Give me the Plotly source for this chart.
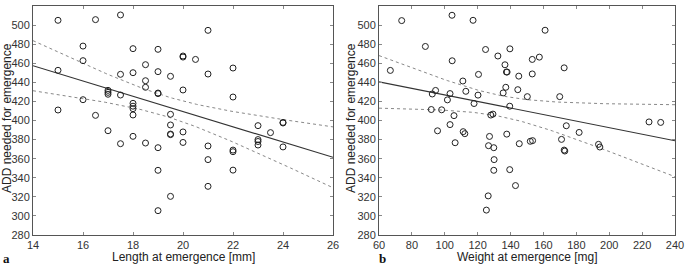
import numpy as np
import plotly.graph_objects as go
from plotly.subplots import make_subplots

# Panel a: length at emergence [mm] vs ADD
length_mm = [15, 15, 15, 16, 16, 16, 16.5, 16.5, 17, 17, 17, 17,
             17.5, 17.5, 17.5, 17.5, 18, 18, 18, 18, 18, 18, 18,
             18.5, 18.5, 18.5, 18.5, 19, 19, 19, 19, 19, 19, 19,
             19.5, 19.5, 19.5, 19.5, 19.5, 19.5, 20, 20, 20, 20, 20,
             20.5, 21, 21, 21, 21, 21, 22, 22, 22, 22, 22,
             23, 23, 23, 23, 23.5, 24, 24, 24]
add_a = [505, 452.6, 411, 478, 462.7, 421.8, 505.7, 405.4, 431.6, 429.5, 427.5, 389.3,
         510.6, 448.4, 426.7, 375.7, 475.3, 450.1, 418, 415, 412.4, 405.8, 383.4,
         458.5, 441.7, 434.8, 376.4, 474.6, 451.2, 428.8, 428.2, 371.5, 347.8, 305.5,
         446.3, 406.5, 395.3, 385.8, 385.2, 320.5, 467.6, 466.5, 432, 388, 377,
         464, 494.5, 448.7, 373.3, 359, 331, 455, 424.6, 369, 367.3, 348,
         394.6, 380, 378, 374.3, 387.3, 398, 397.4, 372.3]

# Panel b: weight at emergence [mg] vs ADD
weight_mg = [66.9, 73.8, 88.2, 94.4, 92.4, 91.8, 95.6, 98.1, 101.6, 103.2, 103.2, 104.4,
             104.5, 105.6, 106.3, 111.0, 111.2, 112.2, 112.8, 117.2, 117.8, 120.5, 120.2,
             124.8, 126.6, 126.4, 125.3, 127.2, 128.0, 129.3, 135.5, 129.8, 130.0, 129.8,
             132.3, 136.6, 137.1, 137.5, 137.9, 137.7, 139.6, 139.5, 139.5, 143.0, 144.4,
             145.0, 145.3, 150.2, 152.0, 153.4, 153.2, 153.2, 157.5, 161.0, 169.9, 171.0,
             172.6, 172.6, 173.0, 173.9, 181.7, 193.5, 194.3, 224.2, 231.3]
add_b = [452.5, 504.7, 477.6, 431.5, 427.8, 411.5, 389.2, 411.2, 421.6, 428.2, 395.7, 510.3,
         462.6, 405.1, 376.7, 441.4, 388.3, 386.2, 430.6, 505, 417.8, 448.3, 426.6,
         474.4, 373.6, 321, 306.1, 383.3, 405.7, 406.7, 428.9, 371.5, 359, 347.8,
         467.6, 458.4, 434.8, 450.8, 450.8, 385.7, 475.1, 415, 348.5, 331.8, 432.3,
         446.5, 375.7, 425, 378.2, 378.9, 464, 448.8, 466.4, 494.6, 425, 380.2,
         455.2, 369, 368, 394.5, 387.5, 375, 372.2, 398.5, 398]

x_range_a = [14, 26]
x_range_b = [60, 240]
y_range = [280, 520]
x_ticks_a = [14, 16, 18, 20, 22, 24, 26]
x_ticks_b = [60, 80, 100, 120, 140, 160, 180, 200, 220, 240]
y_ticks = list(range(280, 521, 20))
T_CRIT = 2.0  # ~95% two-sided, df = 62


def fit_with_band(x, y, xr):
    x = np.asarray(x, float)
    y = np.asarray(y, float)
    n = len(x)
    slope, intercept = np.polyfit(x, y, 1)
    resid = y - (intercept + slope * x)
    s = np.sqrt(np.sum(resid ** 2) / (n - 2))
    sxx = np.sum((x - x.mean()) ** 2)
    xs = np.linspace(xr[0], xr[1], 100)
    ys = intercept + slope * xs
    half = T_CRIT * s * np.sqrt(1.0 / n + (xs - x.mean()) ** 2 / sxx)
    return xs, ys, ys - half, ys + half


fig = make_subplots(rows=1, cols=2, horizontal_spacing=0.07)

INK = "#222222"
panels = [(length_mm, add_a, x_range_a, 1), (weight_mg, add_b, x_range_b, 2)]
for xv, yv, xr, col in panels:
    xs, ys, lo, hi = fit_with_band(xv, yv, xr)
    for band in (lo, hi):
        fig.add_trace(go.Scatter(x=xs, y=band, mode="lines",
                                 line=dict(color="#888888", width=1, dash="dot"),
                                 hoverinfo="skip", showlegend=False), row=1, col=col)
    fig.add_trace(go.Scatter(x=xs, y=ys, mode="lines",
                             line=dict(color="#333333", width=1.1),
                             hoverinfo="skip", showlegend=False), row=1, col=col)
    fig.add_trace(go.Scatter(x=xv, y=yv, mode="markers",
                             marker=dict(symbol="circle-open", size=6,
                                         color=INK, line=dict(width=1, color=INK)),
                             showlegend=False), row=1, col=col)

L, R, T, B = 33, 10, 6, 31
W, H = 685, 266
pw = W - L - R
ph = H - T - B
dom_a = [0, 300 / pw]
dom_b = [(379 - L) / pw, 1]

axis_common = dict(showline=True, linecolor="#555555", linewidth=1, mirror="allticks",
                   ticks="inside", ticklen=3, tickcolor="#888888", showgrid=False,
                   zeroline=False, automargin=False,
                   tickfont=dict(size=11, color="#333333"))

fig.update_xaxes(**axis_common)
fig.update_yaxes(**axis_common)
fig.update_xaxes(range=x_range_a, tickvals=x_ticks_a, domain=dom_a, row=1, col=1)
fig.update_xaxes(range=x_range_b, tickvals=x_ticks_b, domain=dom_b, row=1, col=2)
fig.update_yaxes(range=y_range, tickvals=y_ticks, row=1, col=1)
fig.update_yaxes(range=y_range, tickvals=y_ticks, row=1, col=2)

title_font = dict(size=12, color="#222222", family="Liberation Sans, Arial, sans-serif")
label_font = dict(size=13, color="#111111", family="Liberation Serif, Times New Roman, serif")


def px_x(px):
    return (px - L) / pw


def px_y(py):
    return 1 - (py - T) / ph


annotations = [
    dict(text="Length at emergence [mm]", x=px_x(183), y=px_y(257), xref="paper", yref="paper",
         showarrow=False, font=title_font, xanchor="center", yanchor="middle"),
    dict(text="Weight at emergence [mg]", x=px_x(527), y=px_y(257), xref="paper", yref="paper",
         showarrow=False, font=title_font, xanchor="center", yanchor="middle"),
    dict(text="ADD needed for emergence", x=px_x(7), y=px_y(118), xref="paper", yref="paper",
         showarrow=False, font=title_font, textangle=-90, xanchor="center", yanchor="middle"),
    dict(text="ADD needed for emergence", x=px_x(351), y=px_y(118), xref="paper", yref="paper",
         showarrow=False, font=title_font, textangle=-90, xanchor="center", yanchor="middle"),
    dict(text="<b>a</b>", x=px_x(6), y=px_y(258), xref="paper", yref="paper",
         showarrow=False, font=label_font, xanchor="center", yanchor="middle"),
    dict(text="<b>b</b>", x=px_x(383), y=px_y(258), xref="paper", yref="paper",
         showarrow=False, font=label_font, xanchor="center", yanchor="middle"),
]

fig.update_layout(width=W, height=H, margin=dict(l=L, r=R, t=T, b=B),
                  paper_bgcolor="white", plot_bgcolor="white",
                  font=dict(family="Liberation Sans, Arial, sans-serif", color="#222222"),
                  annotations=annotations)

fig.write_html("out.html", config={"displayModeBar": False},
               post_script="document.body.style.margin='0';document.body.style.overflow='hidden';")
